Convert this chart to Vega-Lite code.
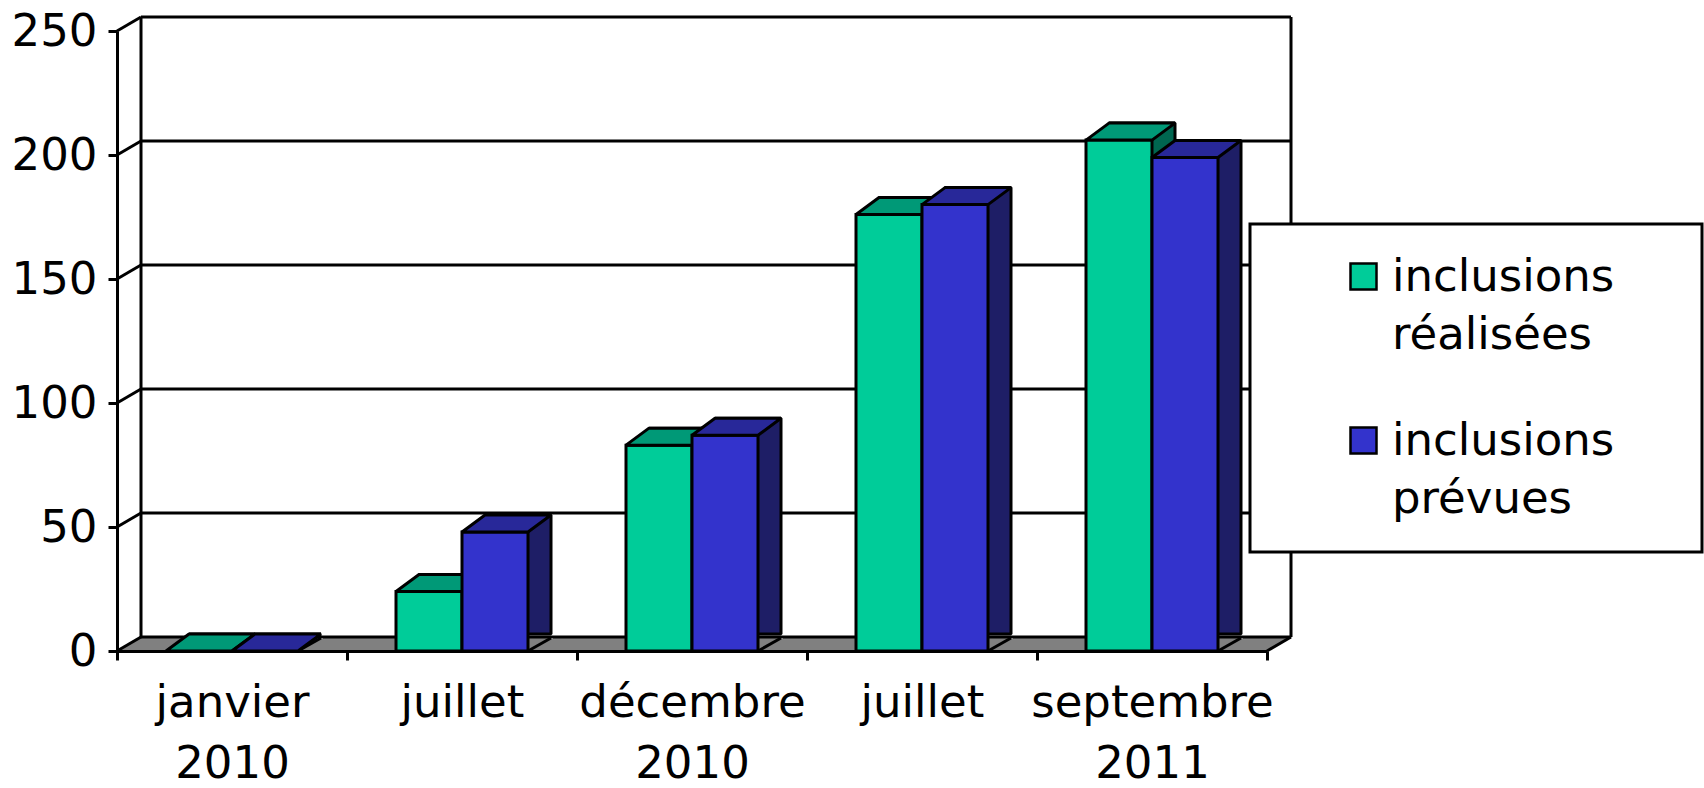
{
  "$schema": "https://vega.github.io/schema/vega-lite/v6.json",
  "width": 1150,
  "height": 620,
  "autosize": {"type": "none"},
  "padding": {"left": 117, "top": 31, "right": 437, "bottom": 137},
  "background": "white",
  "config": {"view": {"stroke": null}, "font": "DejaVu Sans", "legend": {"strokeWidth": 3}, "style": {"guide-label": {"lineHeight": 58}}},
  "datasets": {
    "bars": [
      {"cat": "janvier 2010", "series": "inclusions réalisées", "value": 0},
      {"cat": "janvier 2010", "series": "inclusions prévues", "value": 0},
      {"cat": "juillet 2010", "series": "inclusions réalisées", "value": 24},
      {"cat": "juillet 2010", "series": "inclusions prévues", "value": 48},
      {"cat": "décembre 2010", "series": "inclusions réalisées", "value": 83},
      {"cat": "décembre 2010", "series": "inclusions prévues", "value": 87},
      {"cat": "juillet 2011", "series": "inclusions réalisées", "value": 176},
      {"cat": "juillet 2011", "series": "inclusions prévues", "value": 180},
      {"cat": "septembre 2011", "series": "inclusions réalisées", "value": 206},
      {"cat": "septembre 2011", "series": "inclusions prévues", "value": 199}
    ],
    "grid": [{"v": 0}, {"v": 50}, {"v": 100}, {"v": 150}, {"v": 200}, {"v": 250}],
    "one": [{"k": 1}]
  },
  "layer": [
    {
      "data": {"name": "bars"},
      "transform": [{"filter": "datum.series == 'inclusions réalisées'"}],
      "mark": {"type": "point", "shape": "M-116,0 L116,0 L140,-14 L-92,-14 Z", "size": 4, "filled": true, "fill": "#808080", "strokeWidth": 0, "opacity": 1},
      "encoding": {
        "x": {"field": "cat", "type": "nominal", "sort": null,
              "scale": {"domain": ["janvier 2010", "juillet 2010", "décembre 2010", "juillet 2011", "septembre 2011"], "paddingInner": 0, "paddingOuter": 0},
              "axis": {"title": null}},
        "y": {"datum": 0, "type": "quantitative", "scale": {"domain": [0, 250], "nice": false}, "axis": {"title": null}}
      }
    },
    {
      "data": {"name": "grid"},
      "mark": {"type": "rule", "stroke": "black", "strokeWidth": 3, "xOffset": -91, "x2Offset": 139, "yOffset": -14},
      "encoding": {
        "x": {"datum": "janvier 2010", "type": "nominal", "axis": {"title": null}},
        "x2": {"datum": "septembre 2011"},
        "y": {"field": "v", "type": "quantitative", "axis": {"title": null}}
      }
    },
    {
      "data": {"name": "one"},
      "mark": {"type": "rule", "stroke": "black", "strokeWidth": 3, "xOffset": -91, "yOffset": -14, "y2Offset": -14},
      "encoding": {
        "x": {"datum": "janvier 2010", "type": "nominal", "axis": {"title": null}},
        "y": {"datum": 0, "type": "quantitative", "axis": {"title": null}},
        "y2": {"datum": 250}
      }
    },
    {
      "data": {"name": "one"},
      "mark": {"type": "rule", "stroke": "black", "strokeWidth": 3, "xOffset": 139, "yOffset": -14, "y2Offset": -14},
      "encoding": {
        "x": {"datum": "septembre 2011", "type": "nominal", "axis": {"title": null}},
        "y": {"datum": 0, "type": "quantitative", "axis": {"title": null}},
        "y2": {"datum": 250}
      }
    },
    {
      "data": {"name": "grid"},
      "mark": {"type": "point", "shape": "M0,0 L24,-14", "size": 4, "filled": false, "stroke": "black", "strokeWidth": 3, "opacity": 1, "xOffset": -115},
      "encoding": {
        "x": {"datum": "janvier 2010", "type": "nominal", "axis": {"title": null}},
        "y": {"field": "v", "type": "quantitative", "axis": {"title": null}}
      }
    },
    {
      "data": {"name": "one"},
      "mark": {"type": "point", "shape": "M0,0 L24,-14", "size": 4, "filled": false, "stroke": "black", "strokeWidth": 3, "opacity": 1, "xOffset": 115},
      "encoding": {
        "x": {"datum": "septembre 2011", "type": "nominal", "axis": {"title": null}},
        "y": {"datum": 0, "type": "quantitative", "axis": {"title": null}}
      }
    },

    {
      "data": {"name": "bars"},
      "transform": [{"filter": "datum.series == 'inclusions réalisées'"}],
      "mark": {"type": "bar", "width": 66, "fill": "#006650", "stroke": "black", "strokeWidth": 3, "strokeJoin": "bevel", "xOffset": -10, "yOffset": -17, "y2Offset": 0},
      "encoding": {
        "x": {"field": "cat", "type": "nominal", "sort": null, "axis": {"title": null}},
        "y": {"field": "value", "type": "quantitative", "axis": {"title": null}}
      }
    },
    {
      "data": {"name": "bars"},
      "transform": [{"filter": "datum.series == 'inclusions réalisées'"}],
      "mark": {"type": "point", "shape": "M33,0 L56,-13 L58,-13 L58,1.5 L33,1.5 Z", "size": 4, "filled": true, "fill": "#808080", "strokeWidth": 0, "opacity": 1, "xOffset": -33},
      "encoding": {
        "x": {"field": "cat", "type": "nominal", "sort": null, "axis": {"title": null}},
        "y": {"datum": 0, "type": "quantitative", "axis": {"title": null}}
      }
    },
    {
      "data": {"name": "bars"},
      "transform": [{"filter": "datum.series == 'inclusions réalisées'"}],
      "mark": {"type": "point", "shape": "M33,0 L56,-13", "size": 4, "filled": false, "stroke": "black", "strokeWidth": 3, "opacity": 1, "xOffset": -33},
      "encoding": {
        "x": {"field": "cat", "type": "nominal", "sort": null, "axis": {"title": null}},
        "y": {"datum": 0, "type": "quantitative", "axis": {"title": null}}
      }
    },
    {
      "data": {"name": "bars"},
      "transform": [{"filter": "datum.series == 'inclusions réalisées'"}],
      "mark": {"type": "bar", "width": 66, "xOffset": -33, "stroke": "black", "strokeWidth": 3, "opacity": 1},
      "encoding": {
        "x": {"field": "cat", "type": "nominal", "sort": null,
              "axis": {"title": null, "zindex": 1, "domainColor": "black", "domainWidth": 3, "tickColor": "black", "tickWidth": 3, "tickSize": 9, "tickBand": "extent",
                       "labelAngle": 0, "labelAlign": "center", "labelFontSize": 45, "labelColor": "black", "labelBaseline": "top", "labelLineHeight": 61, "labelPadding": 20,
                       "labelLimit": 500, "labelOverlap": false, "labelFont": "DejaVu Sans",
                       "labelExpr": "indexof(datum.label, 'juillet') == 0 ? 'juillet' : split(datum.label, ' ')"}},
        "y": {"field": "value", "type": "quantitative",
              "axis": {"title": null, "zindex": 1, "values": [0, 50, 100, 150, 200, 250], "grid": false, "domainColor": "black", "domainWidth": 3,
                       "tickColor": "black", "tickWidth": 3, "tickSize": 9, "labelFontSize": 45, "labelColor": "black", "labelPadding": 11, "labelFont": "DejaVu Sans"}},
        "color": {"field": "series", "type": "nominal",
                  "scale": {"domain": ["inclusions réalisées", "inclusions prévues"], "range": ["#00CC99", "#3333CC"]},
                  "legend": {"title": ".", "titleOrient": "right", "titleOpacity": 0, "titleFontSize": 10, "titlePadding": 54,
                             "orient": "none", "legendX": 1133, "legendY": 193, "padding": 30,
                             "strokeColor": "black", "fillColor": "white",
                             "symbolType": "square", "symbolSize": 676, "symbolStrokeColor": "black", "symbolStrokeWidth": 2.5, "symbolOpacity": 1,
                             "symbolOffset": 61, "labelOffset": 6,
                             "labelFontSize": 45, "labelFont": "DejaVu Sans", "labelColor": "black", "labelBaseline": "middle", "labelLimit": 500,
                             "rowPadding": 60,
                             "labelExpr": "split(datum.label, ' ')"}}
      }
    },
    {
      "data": {"name": "bars"},
      "transform": [{"filter": "datum.series == 'inclusions réalisées'"}],
      "mark": {"type": "point", "shape": "M-33,0 L33,0 L56,-17 L-10,-17 Z", "size": 4, "filled": true, "fill": "#009977", "stroke": "black", "strokeWidth": 3, "strokeJoin": "bevel", "opacity": 1, "xOffset": -33},
      "encoding": {
        "x": {"field": "cat", "type": "nominal", "sort": null, "axis": {"title": null}},
        "y": {"field": "value", "type": "quantitative", "axis": {"title": null}}
      }
    },

    {
      "data": {"name": "bars"},
      "transform": [{"filter": "datum.series == 'inclusions prévues'"}],
      "mark": {"type": "bar", "width": 66, "fill": "#1E1E66", "stroke": "black", "strokeWidth": 3, "strokeJoin": "bevel", "xOffset": 56, "yOffset": -17, "y2Offset": 0},
      "encoding": {
        "x": {"field": "cat", "type": "nominal", "sort": null, "axis": {"title": null}},
        "y": {"field": "value", "type": "quantitative", "axis": {"title": null}}
      }
    },
    {
      "data": {"name": "bars"},
      "transform": [{"filter": "datum.series == 'inclusions prévues'"}],
      "mark": {"type": "point", "shape": "M33,0 L56,-13 L58,-13 L58,1.5 L33,1.5 Z", "size": 4, "filled": true, "fill": "#808080", "strokeWidth": 0, "opacity": 1, "xOffset": 33},
      "encoding": {
        "x": {"field": "cat", "type": "nominal", "sort": null, "axis": {"title": null}},
        "y": {"datum": 0, "type": "quantitative", "axis": {"title": null}}
      }
    },
    {
      "data": {"name": "bars"},
      "transform": [{"filter": "datum.series == 'inclusions prévues'"}],
      "mark": {"type": "point", "shape": "M33,0 L56,-13", "size": 4, "filled": false, "stroke": "black", "strokeWidth": 3, "opacity": 1, "xOffset": 33},
      "encoding": {
        "x": {"field": "cat", "type": "nominal", "sort": null, "axis": {"title": null}},
        "y": {"datum": 0, "type": "quantitative", "axis": {"title": null}}
      }
    },
    {
      "data": {"name": "bars"},
      "transform": [{"filter": "datum.series == 'inclusions prévues'"}],
      "mark": {"type": "bar", "width": 66, "xOffset": 33, "stroke": "black", "strokeWidth": 3, "opacity": 1},
      "encoding": {
        "x": {"field": "cat", "type": "nominal", "sort": null, "axis": {"title": null}},
        "y": {"field": "value", "type": "quantitative", "axis": {"title": null}},
        "color": {"field": "series", "type": "nominal", "legend": null}
      }
    },
    {
      "data": {"name": "bars"},
      "transform": [{"filter": "datum.series == 'inclusions prévues'"}],
      "mark": {"type": "point", "shape": "M-33,0 L33,0 L56,-17 L-10,-17 Z", "size": 4, "filled": true, "fill": "#282899", "stroke": "black", "strokeWidth": 3, "strokeJoin": "bevel", "opacity": 1, "xOffset": 33},
      "encoding": {
        "x": {"field": "cat", "type": "nominal", "sort": null, "axis": {"title": null}},
        "y": {"field": "value", "type": "quantitative", "axis": {"title": null}}
      }
    }
  ]
}
